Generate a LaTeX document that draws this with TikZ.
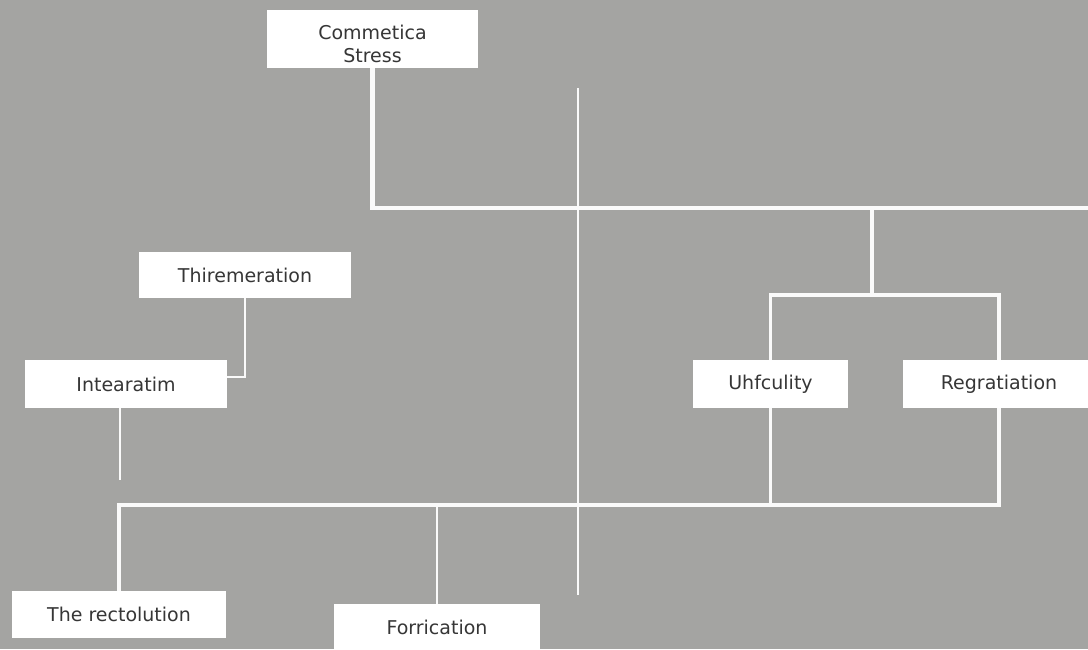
\documentclass[tikz,border=0pt]{standalone}
\usepackage{fontspec}
\setmainfont{DejaVu Sans}
\definecolor{bg}{HTML}{A4A4A2}
\definecolor{txt}{HTML}{363636}
\definecolor{ln}{HTML}{FAFAFA}
\begin{document}
\begin{tikzpicture}[x=1pt,y=-1pt,
  box/.style={draw=none, fill=white, text=txt, font=\fontsize{19}{23}\selectfont, align=center, inner sep=0pt},
  mainline/.style={draw=ln, line width=4.5pt},
  subline/.style={draw=ln, line width=3.5pt},
  thinline/.style={draw=ln, line width=2.6pt}]
\fill[bg] (0,0) rectangle (1088,649);
\useasboundingbox (0,0) rectangle (1088,649);

% nodes
\node[box, minimum width=211pt, minimum height=58pt] (cs) at (372.5,39) {\rule{0pt}{24.5pt}Commetica\\Stress};
\node[box, minimum width=212pt, minimum height=46pt] (th) at (245,275) {Thiremeration};
\node[box, minimum width=202pt, minimum height=48pt] (ia) at (126,384) {Intearatim};
\node[box, minimum width=155pt, minimum height=48pt] (uf) at (770.5,384) {Uhfculity};
\node[box, minimum width=192pt, minimum height=48pt] (rg) at (999,384) {Regratiation};
\node[box, minimum width=214pt, minimum height=47pt] (tr) at (119,614.5) {The rectolution};
\node[box, minimum width=206pt, minimum height=56pt] (fa) at (437,632) {\rule{0pt}{8pt}Forrication\rule[-10pt]{0pt}{0pt}};

% helper coordinates
\coordinate (eR) at (1092,208);
\coordinate (j1) at (872,208);
\coordinate (hb) at (0,295);
\coordinate (bus) at (0,505);
\coordinate (iaend) at (120,480);
\coordinate (vt) at (578,88);
\coordinate (vb) at (578,595);

% connectors
\draw[mainline] (cs.south) |- (eR);
\draw[subline] (j1) -- (j1 |- hb);
\draw[subline] (uf.north) -- (uf.north |- hb) -| (rg.north);
\draw[mainline] (rg.south) |- (bus -| tr.north) -- (tr.north);
\draw[subline] (uf.south) -- (uf.south |- bus);
\draw[thinline] (fa.north) -- (fa.north |- bus);
\draw[thinline] (th.south) |- ([yshift=7pt]ia.east);
\draw[thinline] (ia.south -| iaend) -- (iaend);
\draw[thinline] (vt) -- (vb);
\end{tikzpicture}
\end{document}
